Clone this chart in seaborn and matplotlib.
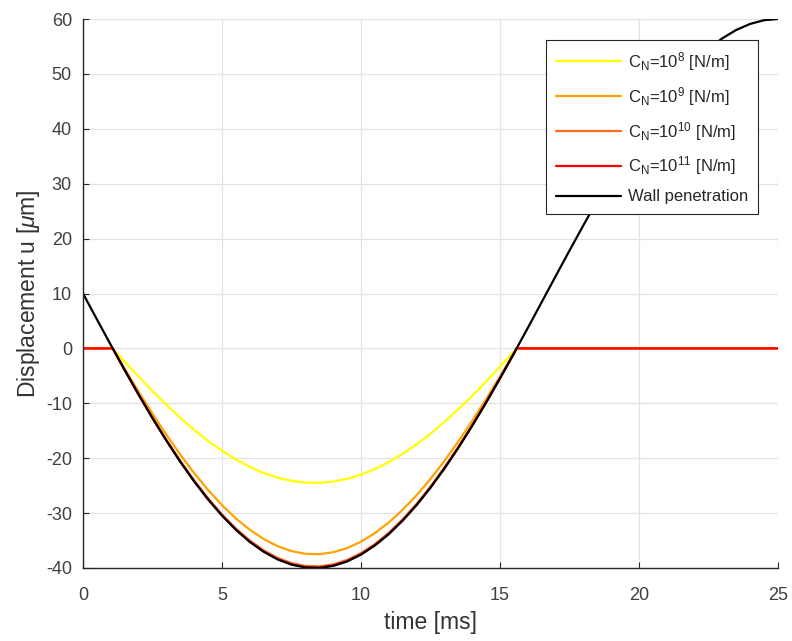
import matplotlib
matplotlib.use("Agg")
import matplotlib.pyplot as plt
import seaborn as sns
import pandas as pd

# ---- data ----
t_wall = [0, 0.5, 1.0, 1.5, 2.0, 2.5, 3.0, 3.5, 4.0, 4.5, 5.0, 5.5, 6.0, 6.5, 7.0, 7.5,
          8.0, 8.5, 9.0, 9.5, 10.0, 10.5, 11.0, 11.5, 12.0, 12.5, 13.0, 13.5, 14.0, 14.5,
          15.0, 15.5, 16.0, 16.5, 17.0, 17.5, 18.0, 18.5, 19.0, 19.5, 20.0, 20.5, 21.0,
          21.5, 22.0, 22.5, 23.0, 23.5, 24.0, 24.5, 25.0]
u_wall = [10.0, 5.29, 0.63, -3.95, -8.41, -12.70, -16.79, -20.65, -24.23, -27.51, -30.45,
          -33.04, -35.24, -37.04, -38.43, -39.38, -39.90, -39.98, -39.61, -38.80, -37.55,
          -35.89, -33.82, -31.35, -28.53, -25.36, -21.87, -18.10, -14.09, -9.86, -5.45,
          -0.91, 3.73, 8.43, 13.14, 17.82, 22.43, 26.94, 31.29, 35.45, 39.39, 43.07, 46.45,
          49.51, 52.22, 54.55, 56.49, 58.01, 59.11, 59.78, 60.0]

t_contact = [0, 1.07, 1.5, 2.0, 2.5, 3.0, 3.5, 4.0, 4.5, 5.0, 5.5, 6.0, 6.5, 7.0, 7.5, 8.0,
             8.5, 9.0, 9.5, 10.0, 10.5, 11.0, 11.5, 12.0, 12.5, 13.0, 13.5, 14.0, 14.5,
             15.0, 15.5, 15.6, 25.0]
u_cn8 = [0, 0, -2.42, -5.15, -7.78, -10.28, -12.65, -14.84, -16.85, -18.65, -20.24, -21.58,
         -22.69, -23.54, -24.12, -24.44, -24.49, -24.26, -23.77, -23.00, -21.98, -20.71,
         -19.20, -17.47, -15.53, -13.40, -11.09, -8.63, -6.04, -3.34, -0.56, 0, 0]
u_cn9 = [0, 0, -3.70, -7.88, -11.91, -15.74, -19.36, -22.72, -25.79, -28.55, -30.98, -33.04,
         -34.73, -36.03, -36.92, -37.41, -37.48, -37.13, -36.38, -35.20, -33.65, -31.71,
         -29.39, -26.75, -23.78, -20.50, -16.97, -13.21, -9.24, -5.11, -0.85, 0, 0]
u_cn10 = [0, 0, -3.92, -8.35, -12.61, -16.67, -20.51, -24.06, -27.32, -30.24, -32.81, -34.99,
          -36.78, -38.16, -39.10, -39.62, -39.70, -39.33, -38.53, -37.29, -35.64, -33.58,
          -31.13, -28.33, -25.18, -21.72, -17.97, -13.99, -9.79, -5.41, -0.90, 0, 0]
u_cn11 = [0, 0, -3.95, -8.40, -12.69, -16.77, -20.63, -24.21, -27.48, -30.42, -33.01, -35.20,
          -37.00, -38.39, -39.34, -39.86, -39.94, -39.57, -38.76, -37.51, -35.85, -33.79,
          -31.32, -28.50, -25.33, -21.85, -18.08, -14.08, -9.85, -5.44, -0.91, 0, 0]

labels = [r"C$_\mathregular{N}$=10$^\mathregular{8}$ [N/m]",
          r"C$_\mathregular{N}$=10$^\mathregular{9}$ [N/m]",
          r"C$_\mathregular{N}$=10$^\mathregular{10}$ [N/m]",
          r"C$_\mathregular{N}$=10$^\mathregular{11}$ [N/m]",
          "Wall penetration"]
colors = ["#FFFF00", "#FFA200", "#FF6A1F", "#FF0000", "#000000"]

x_ticks = [0, 5, 10, 15, 20, 25]
y_ticks = [-40, -30, -20, -10, 0, 10, 20, 30, 40, 50, 60]

# ---- style ----
sns.set_theme(style="white")
plt.rcParams["font.family"] = ["Liberation Sans", "DejaVu Sans"]
plt.rcParams["mathtext.fontset"] = "custom"
plt.rcParams["mathtext.rm"] = "Liberation Sans"
plt.rcParams["mathtext.it"] = "Liberation Sans:italic"
plt.rcParams["axes.unicode_minus"] = False

fig = plt.figure(figsize=(7.92, 6.41), dpi=100)
ax = fig.add_axes([83 / 792, 1 - 568 / 641, (778 - 83) / 792, (568 - 19) / 641])

series = [(t_contact, u_cn8), (t_contact, u_cn9), (t_contact, u_cn10),
          (t_contact, u_cn11), (t_wall, u_wall)]
for (tt, uu), lab, col in zip(series, labels, colors):
    df = pd.DataFrame({"t": tt, "u": uu})
    sns.lineplot(data=df, x="t", y="u", ax=ax, color=col, linewidth=1.6,
                 label=lab, sort=False, estimator=None)

ax.set_xlim(0, 25)
ax.set_ylim(-40, 60)
ax.set_xticks(x_ticks)
ax.set_yticks(y_ticks)
ax.grid(True, color="#e3e3e3", linewidth=0.9)
ax.set_axisbelow(True)
for s in ["top", "right"]:
    ax.spines[s].set_visible(False)
for s in ["left", "bottom"]:
    ax.spines[s].set_color("#262626")
    ax.spines[s].set_linewidth(1.0)
ax.tick_params(axis="both", direction="in", length=4, width=0.8, colors="#262626",
               labelcolor="#404040", labelsize=13, top=False, right=False,
               left=True, bottom=True)
ax.tick_params(axis="x", pad=14)
ax.tick_params(axis="y", pad=8)

ax.set_xlabel("time [ms]", fontsize=16.5, color="#333333", labelpad=5)
ax.set_ylabel(r"Displacement u [$\mu$m]", fontsize=16.5, color="#333333", labelpad=3)

leg = ax.legend(loc="upper right", bbox_to_anchor=(0.971, 0.962), fontsize=12,
                frameon=True, fancybox=False, framealpha=1, edgecolor="#262626",
                handlelength=3.9, handletextpad=0.4, labelspacing=0.72,
                borderpad=0.6, borderaxespad=0)
leg.get_frame().set_linewidth(0.8)

fig.savefig("out.png", dpi=100)
